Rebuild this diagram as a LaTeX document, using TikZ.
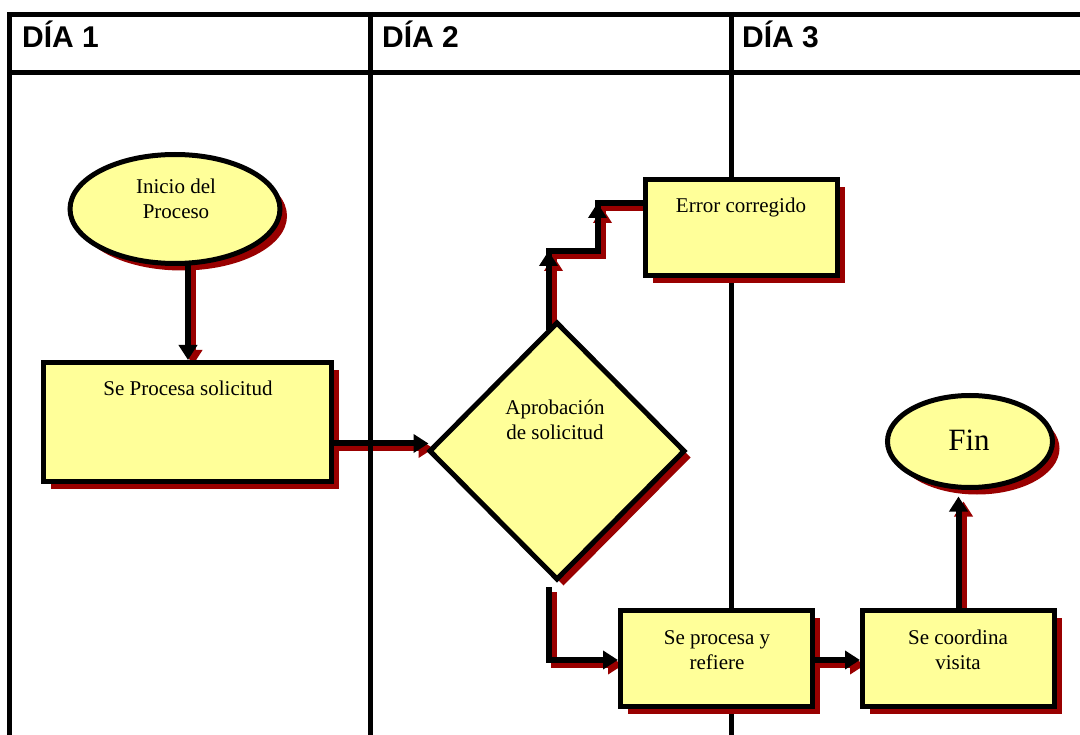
\documentclass[tikz,border=0pt]{standalone}
\usepackage{fontspec}
\setmainfont{Liberation Serif}
\newfontfamily\headfont{Liberation Sans}
\usetikzlibrary{shapes.geometric,shadows,arrows.meta,calc}

\definecolor{boxfill}{HTML}{FFFF99}
\definecolor{shadered}{HTML}{990000}

\pgfdeclarelayer{linkshadow}
\pgfdeclarelayer{lanes}
\pgfsetlayers{linkshadow,lanes,main}

\tikzset{
  shapebase/.style={draw=black, line width=5pt, fill=boxfill, inner sep=0pt, outer sep=0pt},
  boxshadow/.style={drop shadow={shadow xshift=#1, shadow yshift=-#1, fill=shadered, opacity=1}},
  procbox/.style={shapebase, rectangle, boxshadow=7.5pt},
  termnode/.style={shapebase, ellipse, boxshadow=7pt},
  decnode/.style={shapebase, diamond, boxshadow=6.5pt},
  lane/.style={draw=black, line width=5pt},
  headtext/.style={font=\headfont\bfseries\fontsize{30}{36}\selectfont, inner sep=0pt, anchor=base west},
  bodytext/.style={font=\fontsize{21}{25}\selectfont, align=center, inner sep=0pt},
  bigtext/.style={font=\fontsize{31}{36}\selectfont, inner sep=0pt},
  linkline/.style={draw=black, line width=6pt},
  linkshade/.style={draw=shadered, line width=6pt, transform canvas={shift={(5pt,-5pt)}}},
  flowtip/.style={-{Triangle[width=18pt,length=15pt]}},
}

% a connector: dark red copy on the shadow layer, black copy on top
\newcommand\flowlink[2]{%
  \begin{pgfonlayer}{linkshadow}\draw[linkshade,#1] #2;\end{pgfonlayer}%
  \draw[linkline,#1] #2;}

\begin{document}
\begin{tikzpicture}[x=1pt, y=-1pt]
\useasboundingbox (0,0) rectangle (1080,735);

% swim lanes
\begin{pgfonlayer}{lanes}
  \draw[lane] (1090,14.5) -- (9.5,14.5) -- (9.5,745);
  \draw[lane] (7,72.5) -- (1090,72.5);
  \draw[lane] (370.5,12) -- (370.5,745);
  \draw[lane] (731,12) -- (731,745);
\end{pgfonlayer}
\node[headtext] (h1) at (22,48) {DÍA 1};
\node[headtext] (h2) at (382,48) {DÍA 2};
\node[headtext] (h3) at (742,48) {DÍA 3};

% shapes
\node[termnode, minimum width=210pt, minimum height=109pt] (inicio) at (175,209) {};
\node[procbox, minimum width=288pt, minimum height=119pt] (procesa) at (187.5,422) {};
\node[decnode, minimum width=254pt, minimum height=256pt] (aprob) at (557,451) {};
\node[procbox, minimum width=192pt, minimum height=96pt] (error) at (741.5,227.5) {};
\node[termnode, minimum width=165pt, minimum height=92pt] (fin) at (970,441.5) {};
\node[procbox, minimum width=192pt, minimum height=96pt] (refiere) at (716.5,658.5) {};
\node[procbox, minimum width=192pt, minimum height=96pt] (visita) at (958.5,658.5) {};

% labels
\node[bodytext] (t-inicio) at (176,198.5) {Inicio del\\Proceso};
\node[bodytext] (t-procesa) at (188,388) {Se Procesa solicitud};
\node[bodytext] (t-aprob) at (555,420) {Aprobación\\de solicitud};
\node[bodytext] (t-error) at (741,207) {Error corregido};
\node[bigtext] (t-fin) at (969,440) {Fin};
\node[bodytext] (t-refiere) at (717,650) {Se procesa y\\refiere};
\node[bodytext] (t-visita) at (958,650) {Se coordina\\visita};

% bend points
\coordinate (upstart) at ($(aprob.north)+(-8.5,7)$);
\coordinate (bend1) at ($(aprob.north)+(-8.5,-72)$);
\coordinate (bend2) at ($(bend1)+(49,0)$);
\coordinate (bend3) at ($(bend2)+(0,-48)$);
\coordinate (downstart) at ($(aprob.south)+(-8.5,8)$);
\coordinate (bend4) at ($(downstart)+(0,73)$);

% connectors
\flowlink{flowtip}{($(inicio.south)+(13,0)$) -- ($(procesa.north)+(0.5,-2.5)$)}
\flowlink{flowtip}{($(procesa.east)+(0,21.5)$) -- ($(aprob.west)+(-1.5,-7.5)$)}
\flowlink{}{(upstart) -- (bend1) -- (bend2) -- (bend3) -- ($(error.west)+(0,-24.5)$)}
\flowlink{flowtip}{($(bend1)+(0,34)$) -- (bend1)}
\flowlink{flowtip}{($(bend3)+(0,32)$) -- (bend3)}
\flowlink{flowtip}{(downstart) -- (bend4) -- ($(refiere.west)+(-2.5,1.5)$)}
\flowlink{flowtip}{($(refiere.east)+(0,1.5)$) -- ($(visita.west)+(-2.5,1.5)$)}
\flowlink{flowtip}{(visita.north) -- ($(fin.south)+(-11.5,9)$)}
\end{tikzpicture}
\end{document}
